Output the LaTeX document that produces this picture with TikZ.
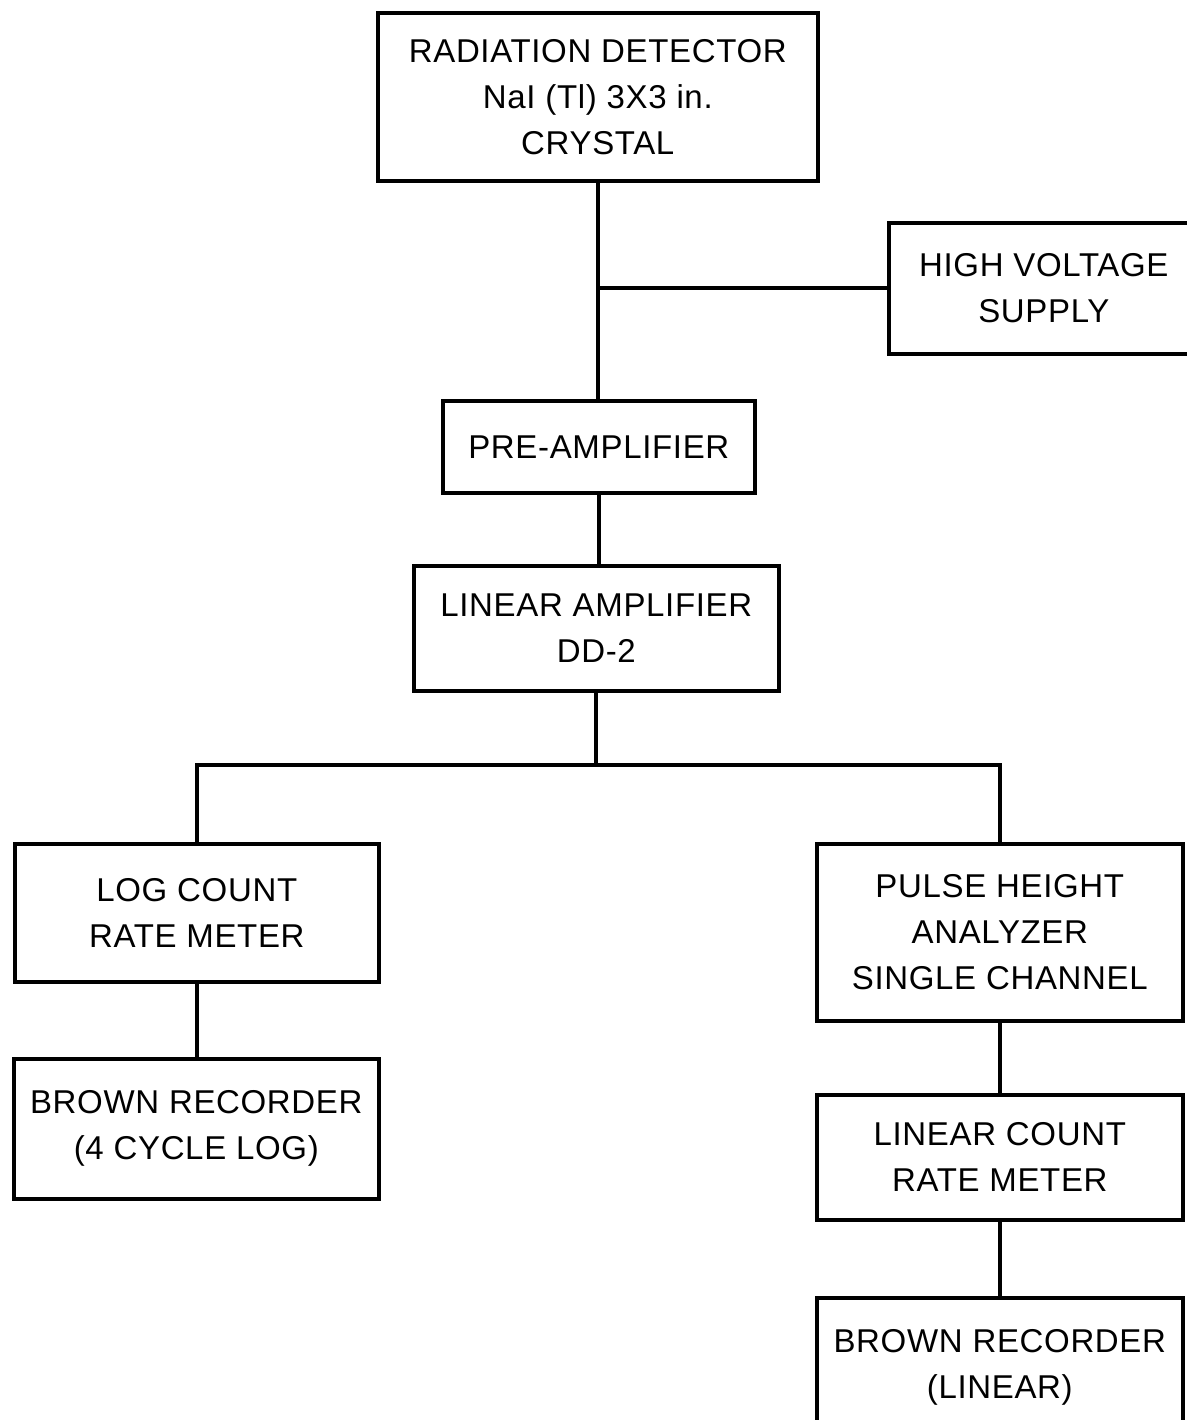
\documentclass[tikz,border=0pt]{standalone}
\usepackage{fontspec}
\setmainfont{Liberation Sans}[LetterSpace=2]
\begin{document}
\begin{tikzpicture}[x=1pt,y=-1pt,
  blk/.style={draw=black, line width=3.6pt, rectangle, anchor=north west, inner sep=0pt,
    align=center, font=\fontsize{33}{46}\selectfont},
  wire/.style={draw=black, line width=4pt}]
\path[use as bounding box, fill=white] (0,0) rectangle (1186,1420);
% boxes
\node[blk, minimum width=440pt, minimum height=168pt] (det) at (376,11) {RADIATION DETECTOR\\NaI (Tl) 3X3 in.\\CRYSTAL};
\node[blk, minimum width=310pt, minimum height=131pt] (hv) at (887,221) {HIGH VOLTAGE\\SUPPLY};
\node[blk, minimum width=312pt, minimum height=92pt] (pre) at (441,399) {PRE-AMPLIFIER};
\node[blk, minimum width=365pt, minimum height=125pt] (lin) at (412,564) {LINEAR AMPLIFIER\\DD-2};
\node[blk, minimum width=364pt, minimum height=138pt] (log) at (13,842) {LOG COUNT\\RATE METER};
\node[blk, minimum width=365pt, minimum height=140pt] (blog) at (12,1057) {BROWN RECORDER\\(4 CYCLE LOG)};
\node[blk, minimum width=366pt, minimum height=177pt] (pha) at (815,842) {PULSE HEIGHT\\ANALYZER\\SINGLE CHANNEL};
\node[blk, minimum width=366pt, minimum height=125pt] (lcr) at (815,1093) {LINEAR COUNT\\RATE METER};
\node[blk, minimum width=366pt, minimum height=140pt] (blin) at (815,1296) {BROWN RECORDER\\(LINEAR)};
% connectors
\coordinate (j1) at (det.south |- hv.west);
\coordinate (bus) at (lin.south |- 0,765);
\draw[wire] (det.south) -- (det.south |- pre.north);
\draw[wire] (j1) -- (hv.west);
\draw[wire] (pre.south) -- (pre.south |- lin.north);
\draw[wire] (lin.south) -- (bus);
\draw[wire] (log.north) |- (bus);
\draw[wire] (pha.north) |- (bus);
\draw[wire] (log.south) -- (log.south |- blog.north);
\draw[wire] (pha.south) -- (pha.south |- lcr.north);
\draw[wire] (lcr.south) -- (lcr.south |- blin.north);
\end{tikzpicture}
\end{document}
